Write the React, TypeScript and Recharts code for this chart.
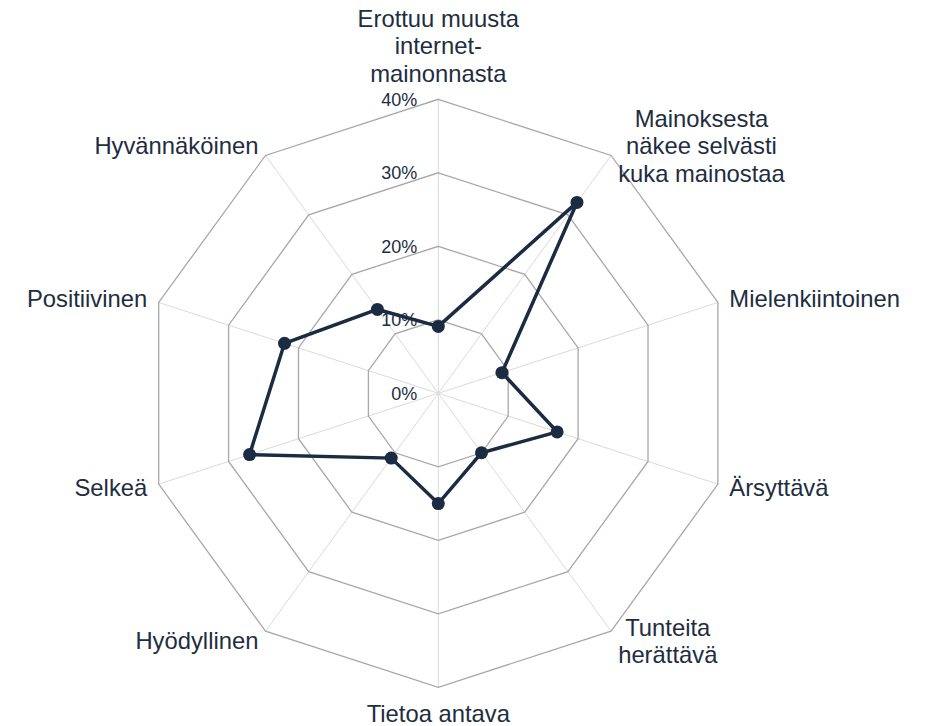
import React from "react";
import { RadarChart, Radar, PolarGrid, PolarAngleAxis, PolarRadiusAxis } from "recharts";

const categories = [
  "Erottuu muusta internet-mainonnasta",
  "Mainoksesta näkee selvästi kuka mainostaa",
  "Mielenkiintoinen",
  "Ärsyttävä",
  "Tunteita herättävä",
  "Tietoa antava",
  "Hyödyllinen",
  "Selkeä",
  "Positiivinen",
  "Hyvännäköinen",
];

const tickLabels: string[][] = [
  ["Erottuu muusta", "internet-", "mainonnasta"],
  ["Mainoksesta", "näkee selvästi", "kuka mainostaa"],
  ["Mielenkiintoinen"],
  ["Ärsyttävä"],
  ["Tunteita", "herättävä"],
  ["Tietoa antava"],
  ["Hyödyllinen"],
  ["Selkeä"],
  ["Positiivinen"],
  ["Hyvännäköinen"],
];

const values = [9.1, 32.1, 9.1, 17, 10, 15, 10.9, 27, 22, 14.1];

const radiusTicks = [0, 10, 20, 30, 40];

const data = categories.map((name, i) => ({ name, value: values[i], idx: i }));

const FONT = "'Liberation Sans', Arial, sans-serif";
const TEXT = "#1e2d40";
const LINE = "#1b2b42";
const LABEL_FS = 23.8;
const LINE_H = 27.6;

let ctx: CanvasRenderingContext2D | null = null;
function measure(s: string, fs: number) {
  if (!ctx) {
    const c = document.createElement("canvas");
    ctx = c.getContext("2d");
  }
  if (!ctx) return s.length * fs * 0.55;
  ctx.font = `${fs}px ${FONT}`;
  return ctx.measureText(s).width;
}

const AngleTick = (props: any) => {
  const { x, y, payload, index } = props;
  const angle = payload.coordinate as number;
  const rad = (angle * Math.PI) / 180;
  const c = Math.cos(rad);
  const s = Math.sin(rad);
  const extra = 4;
  const px = x + extra * c;
  const py = y - extra * s;
  const lines = tickLabels[index] || [String(payload.value)];
  const maxW = Math.max(...lines.map((l) => measure(l, LABEL_FS)));
  const h = lines.length * LINE_H;
  let centerX = px;
  if (c > 0.05) centerX = px + maxW / 2;
  else if (c < -0.05) centerX = px - maxW / 2;
  let top: number;
  if (Math.abs(c) <= 0.05) {
    top = s > 0 ? py - h : py;
  } else {
    top = py - h / 2;
  }
  return (
    <g>
      {lines.map((l, i) => (
        <text
          key={i}
          x={centerX}
          y={top + (i + 0.5) * LINE_H + 0.358 * LABEL_FS}
          textAnchor="middle"
          fontSize={LABEL_FS}
          fontFamily={FONT}
          fill={TEXT}
        >
          {l}
        </text>
      ))}
    </g>
  );
};

const RadiusTick = (props: any) => {
  const { x, y, payload } = props;
  return (
    <text
      x={x - 21}
      y={y + 6.5}
      textAnchor="end"
      fontSize={18}
      fontFamily={FONT}
      fill={TEXT}
    >
      {`${payload.value}%`}
    </text>
  );
};

export default function App() {
  return (
    <div style={{ position: "absolute", left: 0, top: 0, width: 926, height: 726, background: "#fff" }}>
      <RadarChart
        width={926}
        height={726}
        data={data}
        cx={438.3}
        cy={393.3}
        outerRadius={294}
        margin={{ top: 0, right: 0, bottom: 0, left: 0 }}
      >
        <PolarGrid gridType="polygon" stroke="#dadada" strokeWidth={1} polarRadius={[]} />
        <PolarGrid gridType="polygon" stroke="#a8a8a8" strokeWidth={1.3} radialLines={false} />
        <PolarAngleAxis
          dataKey="name"
          tick={<AngleTick />}
          tickLine={false}
          axisLine={false}
          tickSize={8}
        />
        <PolarRadiusAxis
          angle={90}
          domain={[0, 40]}
          ticks={radiusTicks as any}
          tickCount={5}
          axisLine={false}
          tick={<RadiusTick />}
        />
        <Radar
          dataKey="value"
          stroke={LINE}
          strokeWidth={3.5}
          fill="none"
          fillOpacity={0}
          dot={{ r: 6.5, fill: LINE, stroke: LINE, strokeWidth: 0, fillOpacity: 1 }}
          isAnimationActive={false}
        />
      </RadarChart>
    </div>
  );
}
